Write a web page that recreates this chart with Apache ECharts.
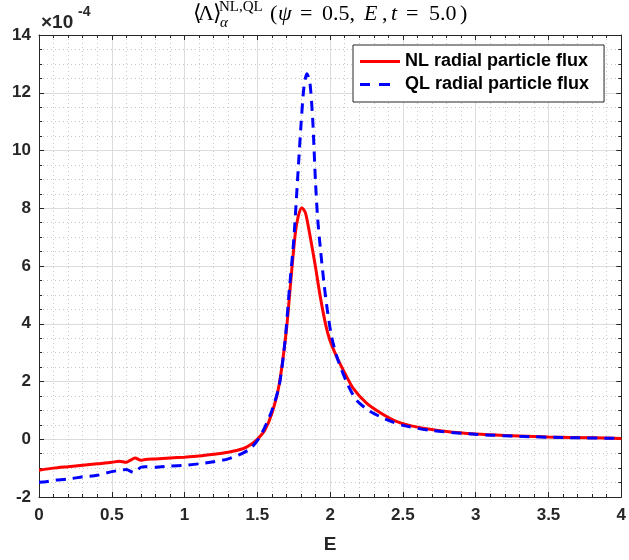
<!DOCTYPE html>
<html>
<head>
<meta charset="utf-8">
<script src="https://cdn.jsdelivr.net/npm/echarts@6/dist/echarts.min.js"></script>
<style>html,body{margin:0;padding:0;background:#fff}#c{width:629px;height:560px}</style>
</head>
<body>
<div id="c"></div>
<script>
const xTicks = [0, 0.5, 1, 1.5, 2, 2.5, 3, 3.5, 4];
const yTicks = [-2, 0, 2, 4, 6, 8, 10, 12, 14];

const E_NL = [0,0.1,0.2,0.3,0.4,0.5,0.55,0.6,0.63,0.66,0.7,0.73,0.8,0.9,1.0,1.1,1.2,1.3,1.4,1.45,1.5,1.55,1.6,1.65,1.7,1.73,1.76,1.78,1.805,1.83,1.86,1.9,1.93,1.97,2.0,2.05,2.1,2.16,2.25,2.35,2.45,2.6,2.8,3.0,3.2,3.5,3.8,4.0];
const NL = [-1.07,-1.0,-0.95,-0.9,-0.85,-0.8,-0.76,-0.8,-0.72,-0.65,-0.73,-0.7,-0.68,-0.65,-0.62,-0.58,-0.52,-0.45,-0.33,-0.2,0.0,0.3,0.9,1.9,3.8,5.5,7.1,7.7,8.02,7.85,7.1,5.95,5.0,3.95,3.4,2.8,2.3,1.75,1.25,0.9,0.63,0.42,0.27,0.18,0.13,0.08,0.05,0.03];

const E_QL = [0,0.05,0.1,0.2,0.3,0.4,0.5,0.55,0.6,0.65,0.7,0.73,0.8,0.9,1.0,1.1,1.2,1.3,1.4,1.45,1.5,1.55,1.6,1.65,1.69,1.72,1.75,1.78,1.8,1.82,1.84,1.86,1.88,1.89,1.9,1.915,1.935,1.96,1.98,2.01,2.05,2.12,2.18,2.27,2.38,2.5,2.7,3.0,3.3,3.6,4.0];
const QL = [-1.49,-1.47,-1.42,-1.38,-1.3,-1.25,-1.12,-1.08,-1.05,-1.15,-0.97,-0.95,-0.97,-0.93,-0.9,-0.85,-0.78,-0.68,-0.48,-0.33,-0.05,0.4,1.0,1.85,3.4,5.2,6.9,9.3,10.9,12.2,12.66,12.4,11.1,10.0,8.85,7.6,6.5,5.3,4.5,3.55,2.8,1.9,1.36,0.98,0.7,0.48,0.3,0.17,0.1,0.06,0.03];

const seriesNames = ['NL radial particle flux', 'QL radial particle flux'];

const axisColor = '#262626';
const sans = 'Liberation Sans, Arial, sans-serif';
const labelFont = { fontFamily: sans, fontWeight: 'bold', fontSize: 17, color: axisColor };

function mkAxisBase(isX, main) {
  return {
    type: 'value',
    min: isX ? xTicks[0] : yTicks[0],
    max: isX ? xTicks[xTicks.length - 1] : yTicks[yTicks.length - 1],
    interval: isX ? xTicks[1] - xTicks[0] : yTicks[1] - yTicks[0],
    axisLine: { show: true, onZero: false, lineStyle: { color: axisColor, width: 1 } },
    axisTick: { show: true, inside: true, length: 5, lineStyle: { color: axisColor } },
    minorTick: { show: true, splitNumber: isX ? 5 : 4, length: 3, lineStyle: { color: axisColor } },
    axisLabel: main ? Object.assign({ show: true, margin: isX ? 10 : 8 }, labelFont) : { show: false },
    splitLine: main ? { show: true, lineStyle: { color: '#dcdcdc', width: 1 } } : { show: false },
    minorSplitLine: main ? { show: true, lineStyle: { color: '#c8c8c8', width: 1, type: [1, 3] } } : { show: false }
  };
}

const xMain = Object.assign(mkAxisBase(true, true), {
  position: 'bottom', name: 'E', nameLocation: 'middle', nameGap: 38,
  nameTextStyle: { fontFamily: sans, fontWeight: 'bold', fontSize: 19, color: axisColor }
});
const xTop = Object.assign(mkAxisBase(true, false), { position: 'top' });
const yMain = Object.assign(mkAxisBase(false, true), { position: 'left' });
const yRight = Object.assign(mkAxisBase(false, false), { position: 'right' });

const serif = 'Liberation Serif, Times New Roman, serif';
function t(x, y, s, font) {
  return { type: 'text', x: x, y: y, style: { text: s, font: font, fill: '#000', verticalAlign: 'top', align: 'left' } };
}
const main = '22px ' + serif, ital = 'italic 22px ' + serif;

const chart = echarts.init(document.getElementById('c'), null, { renderer: 'canvas' });
chart.setOption({
  animation: false,
  backgroundColor: '#fff',
  grid: { left: 39, right: 2, top: 35, bottom: 63, containLabel: false },
  xAxis: [xMain, xTop],
  yAxis: [yMain, yRight],
  legend: {
    data: [
      { name: seriesNames[0], icon: 'path://M0,0h40v3h-40z' },
      { name: seriesNames[1], icon: 'path://M0,0h10v3h-10zM19,0h11v3h-11zM39.98,0h0.02v3h-0.02z' }
    ],
    orient: 'vertical',
    left: 353, top: 45,
    backgroundColor: '#fff',
    borderColor: axisColor, borderWidth: 1,
    padding: [7, 15, 8, 7],
    itemWidth: 40, itemHeight: 3, itemGap: 4,
    textStyle: { fontFamily: sans, fontWeight: 'bold', fontSize: 18, color: '#000', lineHeight: 19 }
  },
  graphic: [
    { type: 'text', x: 41, y: 13, style: { text: '×10', font: 'bold 19px ' + sans, fill: axisColor, verticalAlign: 'top' } },
    { type: 'text', x: 78, y: 5, style: { text: '-4', font: 'bold 14px ' + sans, fill: axisColor, verticalAlign: 'top' } },
    t(193, 3, '⟨', main),
    t(198, 3, 'Λ', main),
    t(213, 3, '⟩', main),
    t(219, 0, 'NL,QL', '15px ' + serif),
    t(220, 16, 'α', 'italic 15px ' + serif),
    t(270, 3, '(', main),
    t(278, 3, 'ψ', ital),
    t(300, 3, '=', main),
    t(322, 3, '0.5,', main),
    t(364, 3, 'E', ital),
    t(382, 3, ',', main),
    t(391, 3, 't', ital),
    t(406, 3, '=', main),
    t(429, 3, '5.0', main),
    t(460, 3, ')', main)
  ],
  series: [
    {
      name: seriesNames[0], type: 'line', xAxisIndex: 0, yAxisIndex: 0,
      data: E_NL.map((e, i) => [e, NL[i]]),
      symbol: 'none', smooth: 0.25, z: 3,
      lineStyle: { color: '#ff0000', width: 3 }, itemStyle: { color: '#ff0000' }
    },
    {
      name: seriesNames[1], type: 'line', xAxisIndex: 0, yAxisIndex: 0,
      data: E_QL.map((e, i) => [e, QL[i]]),
      symbol: 'none', smooth: 0.25, z: 4,
      lineStyle: { color: '#0000ff', width: 3, type: [10, 7] }, itemStyle: { color: '#0000ff' }
    }
  ]
});
</script>
</body>
</html>
